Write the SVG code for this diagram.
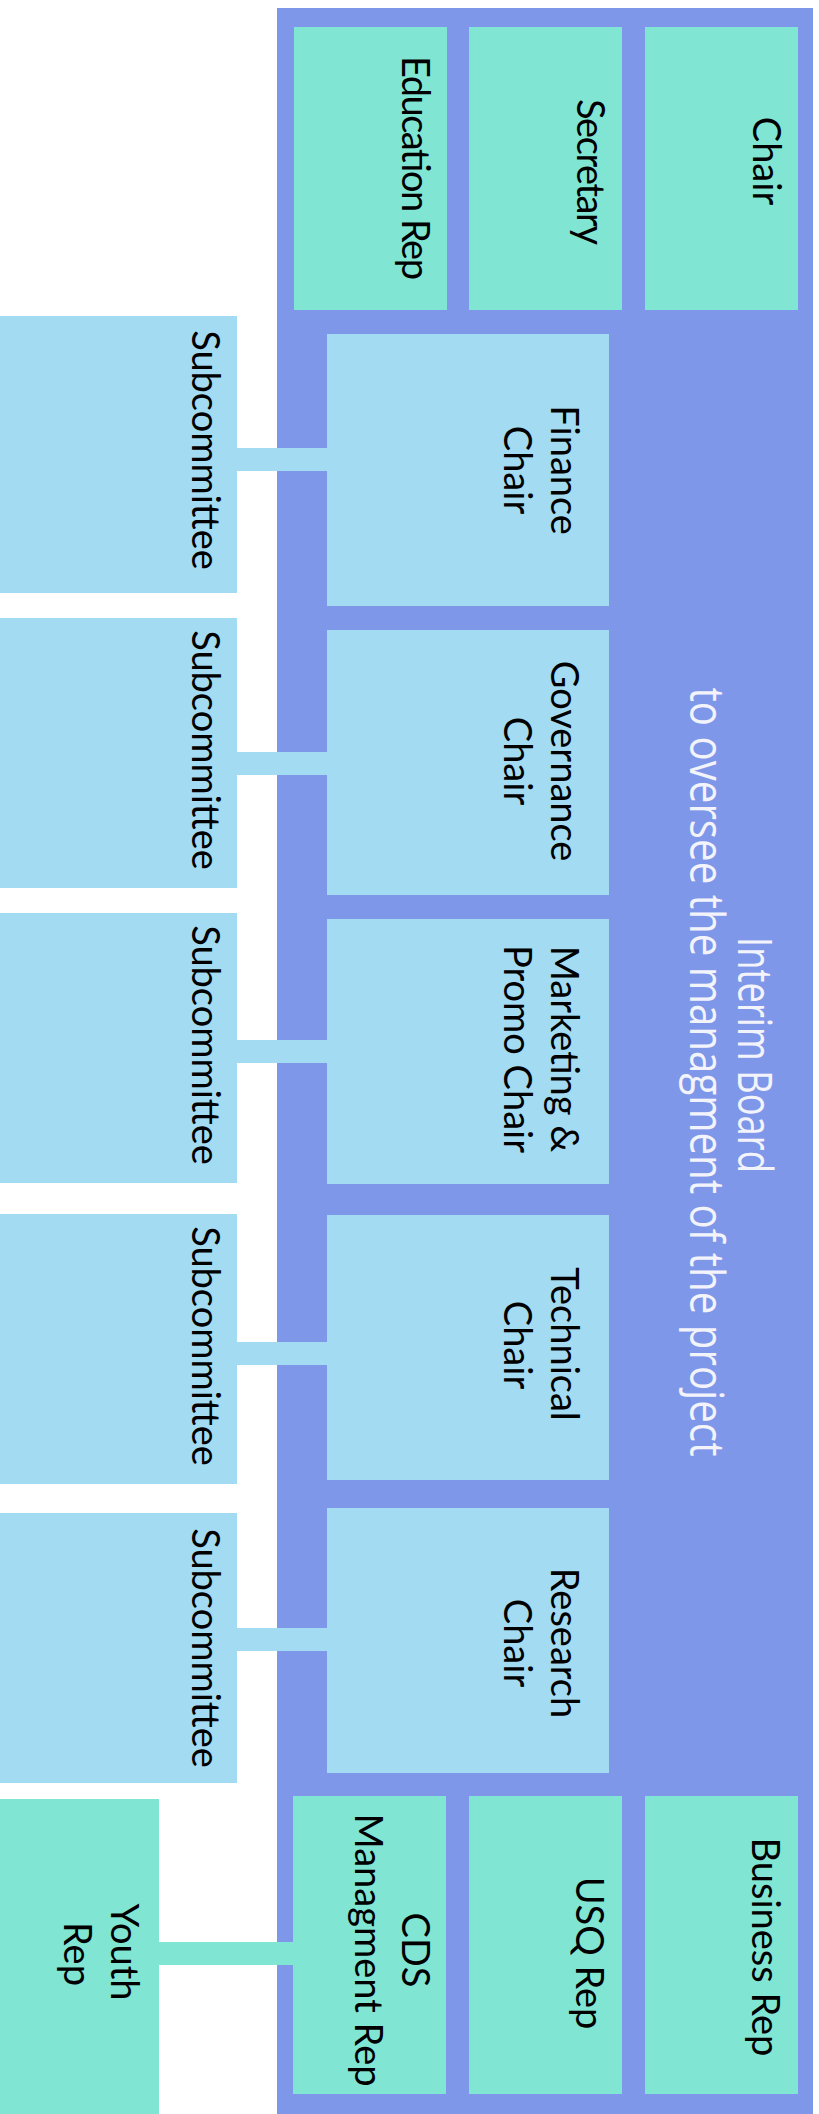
<svg xmlns="http://www.w3.org/2000/svg" width="819" height="2114" viewBox="0 0 819 2114">
  <style>
    .board { fill: #7f97e8; }
    .rep { fill: #80e5d3; }
    .chairbox { fill: #a3dbf2; }
    .sub { fill: #a3dbf2; }
    .lbl { font-family: Lato, "Open Sans", sans-serif; font-size: 38px; fill: #000; text-anchor: middle; }
    .title { font-family: "Open Sans", Lato, sans-serif; font-size: 48px; fill: #f2f3fb; text-anchor: middle; }
    .link-blue { fill: #a3dbf2; }
    .link-teal { fill: #80e5d3; }
  </style>

  <rect width="819" height="2114" fill="#ffffff"/>

  <!-- board container -->
  <g id="interim-board">
    <rect class="board" x="277" y="8" width="536" height="2106"/>
    <text class="title" transform="translate(738,1055) rotate(90)" textLength="236" lengthAdjust="spacingAndGlyphs">Interim Board</text>
    <text class="title" transform="translate(690,1072) rotate(90)" textLength="769" lengthAdjust="spacingAndGlyphs">to oversee the managment of the project</text>
  </g>

  <!-- connectors -->
  <g id="connectors">
    <rect class="link-blue" x="237" y="448" width="90" height="23"/>
    <rect class="link-blue" x="237" y="752" width="90" height="23"/>
    <rect class="link-blue" x="237" y="1040" width="90" height="23"/>
    <rect class="link-blue" x="237" y="1342" width="90" height="23"/>
    <rect class="link-blue" x="237" y="1628" width="90" height="23"/>
    <rect class="link-teal" x="159" y="1942" width="134" height="23"/>
  </g>

  <!-- top representatives -->
  <g id="chair">
    <rect class="rep" x="645" y="27" width="153" height="283"/>
    <text class="lbl" transform="translate(753,161) rotate(90)">Chair</text>
  </g>
  <g id="secretary">
    <rect class="rep" x="469" y="27" width="153" height="283"/>
    <text class="lbl" transform="translate(577,172) rotate(90)" textLength="146">Secretary</text>
  </g>
  <g id="education-rep">
    <rect class="rep" x="294" y="27" width="153" height="283"/>
    <text class="lbl" transform="translate(402,168) rotate(90)" textLength="224">Education Rep</text>
  </g>

  <!-- portfolio chairs -->
  <g id="finance-chair">
    <rect class="chairbox" x="327" y="334" width="282" height="272"/>
    <text class="lbl" transform="translate(551,470) rotate(90)">Finance</text>
    <text class="lbl" transform="translate(504,470) rotate(90)">Chair</text>
  </g>
  <g id="governance-chair">
    <rect class="chairbox" x="327" y="630" width="282" height="265"/>
    <text class="lbl" transform="translate(551,761) rotate(90)">Governance</text>
    <text class="lbl" transform="translate(504,761) rotate(90)">Chair</text>
  </g>
  <g id="marketing-chair">
    <rect class="chairbox" x="327" y="919" width="282" height="265"/>
    <text class="lbl" transform="translate(551,1049) rotate(90)">Marketing &amp;</text>
    <text class="lbl" transform="translate(504,1049) rotate(90)">Promo Chair</text>
  </g>
  <g id="technical-chair">
    <rect class="chairbox" x="327" y="1215" width="282" height="265"/>
    <text class="lbl" transform="translate(551,1344) rotate(90)">Technical</text>
    <text class="lbl" transform="translate(504,1345) rotate(90)">Chair</text>
  </g>
  <g id="research-chair">
    <rect class="chairbox" x="327" y="1508" width="282" height="265"/>
    <text class="lbl" transform="translate(551,1643) rotate(90)">Research</text>
    <text class="lbl" transform="translate(504,1643) rotate(90)">Chair</text>
  </g>

  <!-- subcommittees -->
  <g id="subcommittee-finance">
    <rect class="sub" x="0" y="316" width="237" height="277"/>
    <text class="lbl" transform="translate(192,450) rotate(90)">Subcommittee</text>
  </g>
  <g id="subcommittee-governance">
    <rect class="sub" x="0" y="618" width="237" height="270"/>
    <text class="lbl" transform="translate(192,750) rotate(90)">Subcommittee</text>
  </g>
  <g id="subcommittee-marketing">
    <rect class="sub" x="0" y="913" width="237" height="270"/>
    <text class="lbl" transform="translate(192,1045) rotate(90)">Subcommittee</text>
  </g>
  <g id="subcommittee-technical">
    <rect class="sub" x="0" y="1214" width="237" height="270"/>
    <text class="lbl" transform="translate(192,1346) rotate(90)">Subcommittee</text>
  </g>
  <g id="subcommittee-research">
    <rect class="sub" x="0" y="1513" width="237" height="270"/>
    <text class="lbl" transform="translate(192,1648) rotate(90)">Subcommittee</text>
  </g>

  <!-- bottom representatives -->
  <g id="business-rep">
    <rect class="rep" x="645" y="1796" width="153" height="298"/>
    <text class="lbl" transform="translate(752,1947) rotate(90)">Business Rep</text>
  </g>
  <g id="usq-rep">
    <rect class="rep" x="469" y="1796" width="153" height="298"/>
    <text class="lbl" transform="translate(576,1953) rotate(90)">USQ Rep</text>
  </g>
  <g id="cds-rep">
    <rect class="rep" x="293" y="1796" width="153" height="298"/>
    <text class="lbl" transform="translate(402,1950) rotate(90)">CDS</text>
    <text class="lbl" transform="translate(355,1950) rotate(90)">Managment Rep</text>
  </g>
  <g id="youth-rep">
    <rect class="rep" x="0" y="1799" width="159" height="315"/>
    <text class="lbl" transform="translate(111,1952) rotate(90)">Youth</text>
    <text class="lbl" transform="translate(64,1954) rotate(90)">Rep</text>
  </g>
</svg>
